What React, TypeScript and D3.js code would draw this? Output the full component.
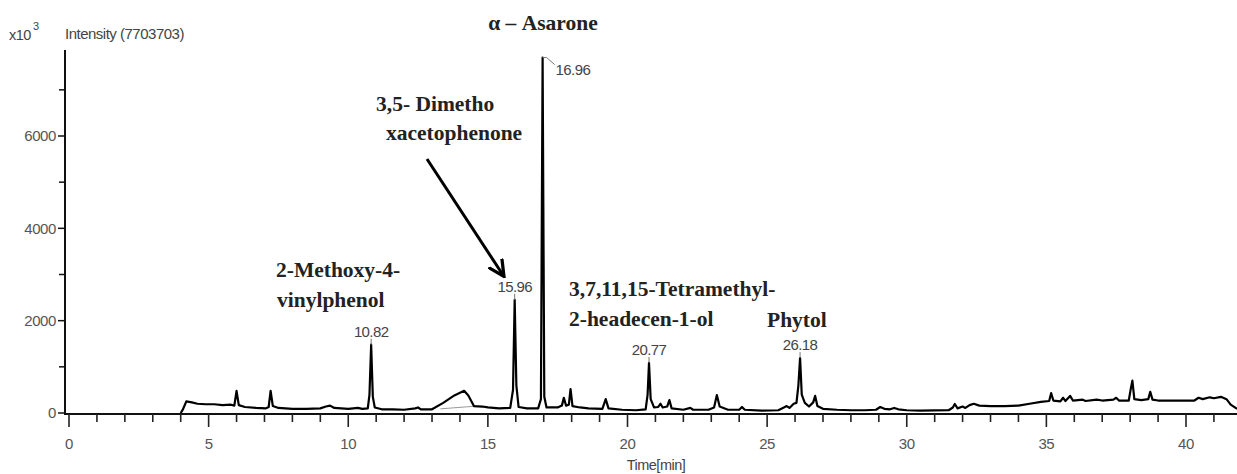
import React from "react";
import * as d3 from "d3";

// retention time (min) and intensity (x10^3)
const times = [
  4.0, 4.08, 4.2, 4.4, 4.6, 4.9, 5.2, 5.5, 5.8, 5.92, 6.0, 6.08, 6.3, 6.7, 7.05, 7.15, 7.22, 7.3, 7.5, 8.0,
  8.5, 9.0, 9.2, 9.35, 9.5, 10.0, 10.35, 10.5, 10.7, 10.76, 10.82, 10.88, 10.95, 11.2, 11.6, 12.0, 12.4, 12.5,
  12.6, 13.0, 13.4, 13.8, 14.15, 14.3, 14.5, 14.8, 15.0, 15.4, 15.8, 15.9, 15.96, 16.02, 16.1, 16.4, 16.8,
  16.9, 16.96, 17.02, 17.1, 17.5, 17.65, 17.72, 17.8, 17.9, 17.96, 18.03, 18.3, 18.6, 19.1, 19.22, 19.32,
  19.8, 20.3, 20.65, 20.72, 20.77, 20.83, 20.95, 21.1, 21.18, 21.26, 21.42, 21.5, 21.58, 22.0, 22.25, 22.35,
  22.9, 23.1, 23.2, 23.3, 23.6, 24.0, 24.1, 24.2, 24.8, 25.4, 25.6, 25.7, 25.8, 25.95, 26.05, 26.12, 26.18,
  26.24, 26.35, 26.5, 26.65, 26.72, 26.8, 27.0, 27.5, 28.0, 28.5, 28.9, 29.05, 29.2, 29.4, 29.55, 29.7, 30.0,
  30.5, 31.0, 31.5, 31.65, 31.72, 31.82, 32.0, 32.1, 32.25, 32.4, 32.6, 33.0, 33.5, 34.0, 34.4, 34.8, 35.1,
  35.17, 35.25, 35.5, 35.6, 35.68, 35.85, 35.95, 36.3, 36.4, 36.8, 37.0, 37.4, 37.5, 37.6, 37.95, 38.03,
  38.08, 38.15, 38.4, 38.65, 38.72, 38.8, 39.0, 39.5, 40.0, 40.3, 40.45, 40.6, 40.85, 41.0, 41.25, 41.45,
  41.6, 41.83,
];
const intensity = [
  0, 80, 250, 230, 200, 190, 190, 170, 180, 160, 480, 170, 130, 110, 100, 130, 480, 150, 110, 90,
  90, 100, 140, 160, 110, 90, 110, 90, 100, 400, 1480, 350, 120, 80, 80, 70, 100, 120,
  80, 80, 220, 380, 480, 380, 150, 140, 120, 100, 110, 500, 2450, 600, 130, 100, 100,
  300, 7700, 350, 120, 120, 160, 330, 160, 180, 520, 150, 120, 100, 90, 300, 100,
  70, 60, 80, 400, 1085, 300, 120, 130, 200, 120, 140, 280, 100, 70, 110, 70,
  70, 120, 390, 140, 70, 70, 130, 70, 50, 60, 120, 150, 110, 200, 220, 600, 1190,
  400, 220, 140, 230, 370, 150, 90, 70, 60, 60, 70, 130, 90, 80, 110, 80, 60,
  50, 55, 60, 120, 195, 100, 140, 110, 170, 200, 160, 150, 150, 160, 200, 240, 260,
  430, 270, 250, 330, 260, 370, 270, 290, 260, 290, 270, 290, 330, 270, 270, 550,
  700, 300, 280, 300, 460, 290, 270, 270, 270, 270, 330, 300, 340, 320, 350, 300,
  180, 90,
];

// integration baseline drawn under the broad hump near 14 min
const humpBaseTimes = [13.3, 14.6];
const humpBaseValues = [90, 150];

const yMajorTicks = [0, 2000, 4000, 6000];
const yMinorTicks = [1000, 3000, 5000, 7000];
const xMajorTicks = [0, 5, 10, 15, 20, 25, 30, 35, 40];
const xMinorTicks = d3.range(0, 42);

const peakTimes = [10.82, 15.96, 16.96, 20.77, 26.18];
const peakValues = [1480, 2450, 7700, 1085, 1190];
const peakLabels = ["10.82", "15.96", "16.96", "20.77", "26.18"];

const W = 1237;
const H = 474;

const App = () => {
  const x = d3.scaleLinear().domain([0, 40]).range([69, 1186]);
  const y = d3.scaleLinear().domain([0, 6000]).range([413, 136]);

  const trace = d3
    .line<number>()
    .x((t) => x(t))
    .y((_, i) => y(intensity[i]));

  const humpBase = d3
    .line<number>()
    .x((t) => x(t))
    .y((_, i) => y(humpBaseValues[i]));

  const axisFont = "'Liberation Sans', Arial, sans-serif";
  const serif = "'Liberation Serif', 'Times New Roman', serif";
  const tickColor = "#555";
  const axisY = 414;
  const axisX = 65;

  return (
    <svg
      width={W}
      height={H}
      style={{ position: "absolute", left: 0, top: 0, background: "#fff" }}
    >
      {/* y axis label */}
      <text x={9} y={40} fontFamily={axisFont} fontSize={14.5} fill="#444" letterSpacing={-0.5}>
        x10
      </text>
      <text x={33} y={30} fontFamily={axisFont} fontSize={11} fill="#444">
        3
      </text>
      <text x={65} y={39} fontFamily={axisFont} fontSize={15} fill="#444" letterSpacing={-0.5}>
        Intensity (7703703)
      </text>

      {/* y axis */}
      <line x1={axisX} x2={axisX} y1={50} y2={axisY + 1} stroke="#111" strokeWidth={2} />
      {yMajorTicks.map((v) => (
        <g key={"ym" + v}>
          <line x1={axisX - 7} x2={axisX} y1={y(v)} y2={y(v)} stroke="#111" strokeWidth={1.5} />
          <text
            x={axisX - 9}
            y={y(v)}
            dy="0.35em"
            textAnchor="end"
            fontFamily={axisFont}
            fontSize={15}
            fill={tickColor}
            letterSpacing={-0.4}
          >
            {v}
          </text>
        </g>
      ))}
      {yMinorTicks.map((v) => (
        <line key={"yn" + v} x1={axisX - 6} x2={axisX} y1={y(v)} y2={y(v)} stroke="#111" strokeWidth={1.5} />
      ))}

      {/* x axis */}
      <line x1={axisX} x2={W} y1={axisY} y2={axisY} stroke="#111" strokeWidth={2.2} />
      {xMinorTicks.map((t) => (
        <line
          key={"xt" + t}
          x1={x(t)}
          x2={x(t)}
          y1={axisY}
          y2={axisY + (t % 5 === 0 ? 13 : 8)}
          stroke="#222"
          strokeWidth={1.6}
        />
      ))}
      {xMajorTicks.map((t) => (
        <text
          key={"xl" + t}
          x={x(t)}
          y={449}
          textAnchor="middle"
          fontFamily={axisFont}
          fontSize={15}
          fill={tickColor}
          letterSpacing={-0.4}
        >
          {t}
        </text>
      ))}
      <text x={656} y={470} textAnchor="middle" fontFamily={axisFont} fontSize={14.5} fill="#444" letterSpacing={-0.5}>
        Time[min]
      </text>

      {/* chromatogram */}
      <path d={humpBase(humpBaseTimes) ?? ""} fill="none" stroke="#999" strokeWidth={1} />
      <path d={trace(times) ?? ""} fill="none" stroke="#000" strokeWidth={2.2} strokeLinejoin="round" />

      {/* peak labels with leader lines */}
      {peakTimes.map((t, i) => {
        const px = x(t);
        const py = y(peakValues[i]);
        if (peakLabels[i] === "16.96") {
          return (
            <g key={"pk" + i}>
              <polyline
                points={`${px},${py} ${px + 4},${py} ${px + 12},${py + 7}`}
                fill="none"
                stroke="#777"
                strokeWidth={1}
              />
              <text x={px + 13} y={py + 17} fontFamily={axisFont} fontSize={15} fill="#444" letterSpacing={-0.6}>
                {peakLabels[i]}
              </text>
            </g>
          );
        }
        return (
          <g key={"pk" + i}>
            <line x1={px} x2={px} y1={py} y2={py - 6} stroke="#777" strokeWidth={1} />
            <text
              x={px}
              y={py - 8}
              textAnchor="middle"
              fontFamily={axisFont}
              fontSize={15}
              fill="#444"
              letterSpacing={-0.6}
            >
              {peakLabels[i]}
            </text>
          </g>
        );
      })}

      {/* compound annotations */}
      <g fontFamily={serif} fontWeight="bold" fill="#222" fontSize={21.5}>
        <text x={543} y={30} textAnchor="middle">
          α – Asarone
        </text>
        <text x={376} y={111}>
          3,5- Dimetho
        </text>
        <text x={386} y={140}>
          xacetophenone
        </text>
        <text x={276} y={277}>
          2-Methoxy-4-
        </text>
        <text x={277} y={307}>
          vinylphenol
        </text>
        <text x={569} y={296}>
          3,7,11,15-Tetramethyl-
        </text>
        <text x={569} y={326}>
          2-headecen-1-ol
        </text>
        <text x={767} y={327}>
          Phytol
        </text>
      </g>

      {/* arrow to 15.96 */}
      <defs>
        <marker id="arrowHead" viewBox="0 0 10 10" refX={8} refY={5} markerWidth={6} markerHeight={6} orient="auto">
          <path d="M0,0.5 L9,5 L0,9.5" fill="none" stroke="#000" strokeWidth={1.8} />
        </marker>
      </defs>
      <line x1={427} y1={159} x2={503} y2={275} stroke="#000" strokeWidth={3} markerEnd="url(#arrowHead)" />
    </svg>
  );
};

export default App;
